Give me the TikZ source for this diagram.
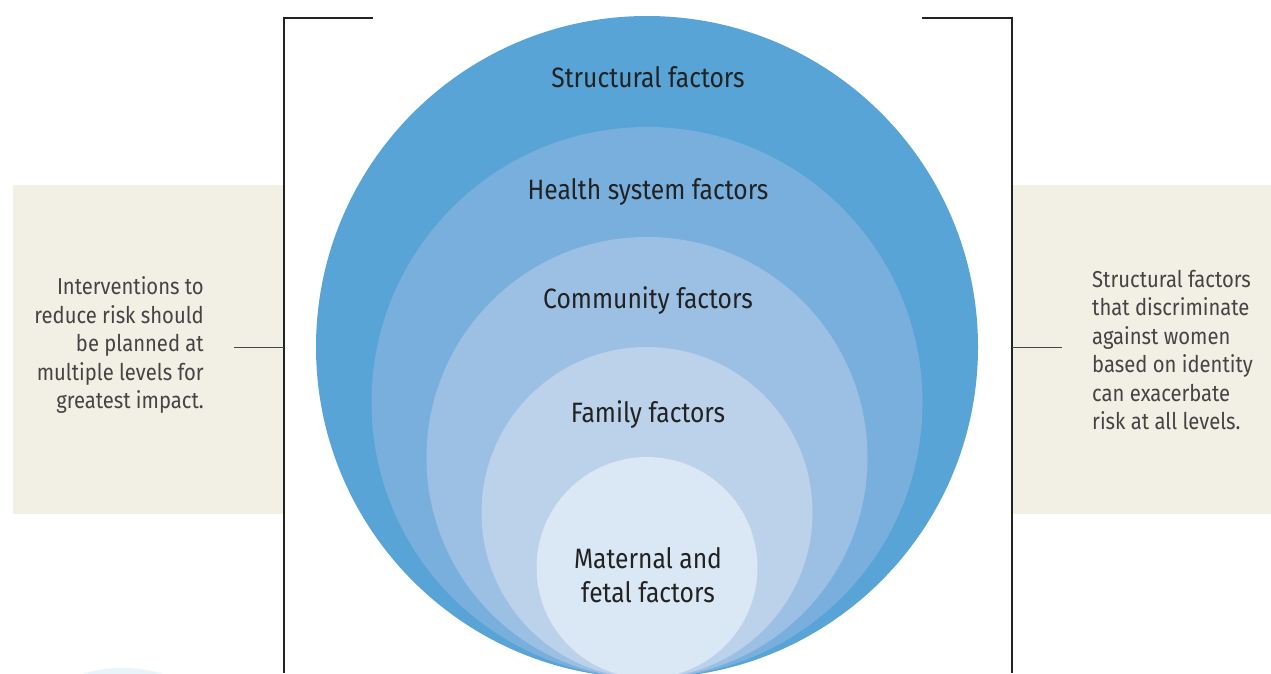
\documentclass[tikz,border=0pt]{standalone}
\usepackage{fontspec}
\setmainfont{Fira Sans}[FakeStretch=0.88]
\definecolor{beige}{HTML}{F2EFE4}
\definecolor{cA}{HTML}{58A4D6}
\definecolor{cB}{HTML}{79AFDC}
\definecolor{cC}{HTML}{9CC0E3}
\definecolor{cD}{HTML}{BBD2EA}
\definecolor{cE}{HTML}{DAE7F4}
\definecolor{ink}{HTML}{222222}
\definecolor{side}{HTML}{444444}
\definecolor{ghost}{HTML}{E8F3FA}
\begin{document}
\begin{tikzpicture}[x=1pt,y=-1pt,
  bracket/.style={draw=ink,line width=1.4pt},
  lvl/.style={text=ink,font=\fontsize{28}{34}\selectfont,align=center,inner sep=0pt},
  sidetext/.style={text=side,font=\fontsize{23}{28.5}\selectfont,inner sep=0pt},
  lead/.style={draw=side,line width=1pt}]
\useasboundingbox (0,0) rectangle (1271,673);
\fill[white] (0,0) rectangle (1271,673);
% beige panels
\fill[beige] (13,185) rectangle (284,514);
\fill[beige] (1012,185) rectangle (1271,514);
% faint shape bottom left
\fill[ghost] (123,807) circle (139);
% circles
\fill[cA] (647,347) circle (331);
\fill[cB] (647,402.5) circle (275.5);
\fill[cC] (647,457.5) circle (220.5);
\fill[cD] (647,512.5) circle (165.5);
\fill[cE] (647,567.5) circle (110.5);
% bracket
\draw[bracket] (373,18) -- (284,18) -- (284,673);
\draw[bracket] (922,18) -- (1012,18) -- (1012,673);
% labels
\node[lvl] (structural) at (648,77) {Structural factors};
\node[lvl] (health) at (648,192) {Health system factors};
\node[lvl] (community) at (648,301) {Community factors};
\node[lvl] (family) at (648,415) {Family factors};
\node[lvl] (maternal) at (648,575) {Maternal and\\fetal factors};
% side texts
\node[sidetext,align=right,anchor=east] (lefttext) at (204,345) {Interventions to\\reduce risk should\\be planned at\\multiple levels for\\greatest impact.};
\node[sidetext,align=left,anchor=west] (righttext) at (1092,350) {Structural factors\\that discriminate\\against women\\based on identity\\can exacerbate\\risk at all levels.};
% leader lines
\coordinate (lb) at (284,347);
\coordinate (lt) at (234,347);
\coordinate (rb) at (1012,347);
\coordinate (rt) at (1062,347);
\draw[lead] (lt) -- (lb);
\draw[lead] (rb) -- (rt);
\end{tikzpicture}
\end{document}
